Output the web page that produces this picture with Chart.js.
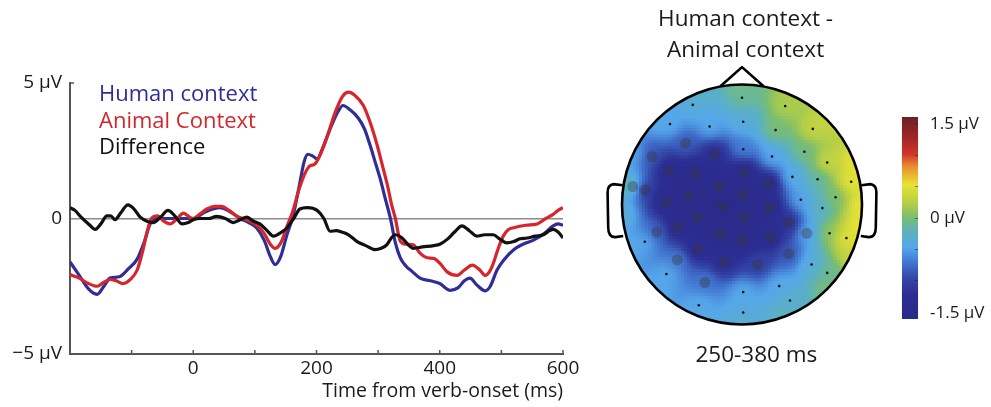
<!DOCTYPE html>
<html>
<head>
<meta charset="utf-8">
<script src="https://cdn.jsdelivr.net/npm/chart.js@4.4.1/dist/chart.umd.min.js"></script>
<style>
  html, body { margin: 0; padding: 0; background: #fff; }
  #wrap { position: relative; width: 991px; height: 407px; overflow: hidden; }
  canvas { position: absolute; top: 0; }
  #erp { left: 0; }
  #topo { left: 590px; }
</style>
</head>
<body>
<div id="wrap">
  <canvas id="erp" width="590" height="407"></canvas>
  <canvas id="topo" width="401" height="407"></canvas>
</div>
<script>
// ---- ERP waveforms (ms, µV) ----
const humanT = [-200,-185,-170,-156,-145,-135,-120,-105,-91,-80,-70,-60,-45,-30,-15,0,20,43,60,76,90,103,115,125,133,142,152,162,172,180,186,194,201,210,222,235,243,255,268,278,287,295,303,312,320,328,336,345,355,368,385,400,417,430,440,449,460,474,482,493,505,520,535,552,570,584,592,600];
const humanV = [-1.6,-2.1,-2.6,-2.8,-2.5,-2.2,-2.15,-1.85,-1.5,-0.9,-0.2,0.0,0.0,0.0,0.0,0.0,0.25,0.4,0.25,0.0,-0.15,-0.35,-0.8,-1.4,-1.7,-1.4,-0.6,0.1,1.2,2.1,2.37,2.3,2.2,2.6,3.3,3.95,4.17,4.0,3.7,3.3,2.7,2.1,1.5,0.7,0.0,-0.9,-1.45,-1.75,-1.95,-2.2,-2.3,-2.4,-2.65,-2.55,-2.3,-2.2,-2.45,-2.67,-2.5,-1.9,-1.5,-1.15,-0.95,-0.8,-0.55,-0.27,-0.2,-0.25];

const animalT = [-200,-185,-170,-156,-145,-135,-125,-114,-102,-91,-82,-75,-68,-58,-48,-38,-26,-16,-6,0,10,22,35,46,58,70,80,92,103,115,125,133,142,152,162,172,182,190,197,205,217,230,242,252,262,276,287,298,307,315,322,328,336,345,357,368,380,390,400,412,428,440,453,465,474,481,487,495,503,512,520,540,558,572,584,592,600];
const animalV = [-2.07,-2.2,-2.4,-2.5,-2.35,-2.25,-2.3,-2.4,-2.25,-1.9,-1.2,-0.5,0.0,0.1,-0.1,-0.2,0.0,0.2,0.05,0.0,0.15,0.35,0.45,0.45,0.3,0.1,0.0,-0.1,-0.25,-0.55,-0.95,-1.1,-0.9,-0.3,0.3,1.1,1.7,1.95,2.0,2.3,3.0,3.9,4.5,4.66,4.55,4.17,3.55,2.74,1.95,1.24,0.5,0.0,-0.84,-0.95,-0.97,-1.28,-1.45,-1.47,-1.65,-1.97,-2.1,-1.9,-1.72,-1.9,-2.1,-1.95,-1.65,-1.1,-0.65,-0.4,-0.34,-0.25,-0.2,0.0,0.15,0.3,0.4];

const diffT = [-200,-192,-184,-170,-159,-150,-140,-134,-127,-118,-106,-96,-86,-75,-65,-53,-41,-30,-18,-8,0,11,25,38,52,65,76,87,98,108,120,130,140,152,163,173,185,201,212,222,232,241,252,266,280,295,305,314,322,328,338,348,357,372,390,400,412,424,436,448,460,473,487,497,509,520,530,542,555,568,578,584,592,600];
const diffV = [0.4,0.3,0.1,-0.2,-0.4,-0.2,0.1,0.1,-0.04,0.2,0.5,0.35,0.05,-0.1,-0.15,0.05,0.3,0.1,-0.2,-0.15,-0.05,0.0,0.0,0.08,0.0,-0.15,-0.05,0.05,-0.1,-0.2,-0.45,-0.65,-0.55,-0.35,0.0,0.35,0.4,0.3,0.0,-0.47,-0.45,-0.5,-0.6,-0.85,-1.0,-1.15,-1.1,-0.97,-0.7,-0.6,-0.7,-0.95,-1.1,-1.05,-1.0,-0.95,-0.77,-0.5,-0.27,-0.45,-0.65,-0.6,-0.6,-0.75,-0.9,-0.85,-0.75,-0.72,-0.65,-0.6,-0.45,-0.4,-0.5,-0.72];

const seriesLabels = ['Human context', 'Animal Context', 'Difference'];
const xTickLabels = [0, 200, 400, 600];
const xMinorTicks = [-100, 0, 100, 200, 300, 400, 500, 600];
const yTickLabels = { '5': '5 µV', '0': '0', '-5': '\u22125 µV' };

// ---- topography: electrode positions (head radius = 1) and µV values ----
const dotX = [0.00,-0.41,0.36,-0.60,-0.27,0.01,0.28,0.59,0.01,0.25,0.52,0.71,0.42,0.63,0.91,0.49,0.78,0.67,0.73,0.87,-0.81,0.58,0.71,-0.63,0.31,0.01,0.40,-0.36,0.01];
const dotY = [0.89,0.83,0.82,0.67,0.65,0.69,0.62,0.63,0.46,0.40,0.44,0.35,0.23,0.21,0.19,0.04,0.06,-0.03,-0.24,-0.28,-0.31,-0.50,-0.57,-0.58,-0.68,-0.73,-0.80,-0.84,-0.90];
const dotV = [-0.1,-0.38,0.2,-0.45,-0.45,-0.38,0.0,0.32,-0.65,-0.45,-0.05,0.35,-0.42,-0.15,0.55,-0.5,0.0,-0.25,0.1,0.55,-0.45,-0.38,-0.1,-0.45,-0.45,-0.45,-0.3,-0.45,-0.4];

const sigX = [-0.47,-0.75,-0.23,-0.61,-0.39,0.02,-0.91,-0.81,-0.19,0.22,-0.44,0.01,-0.63,-0.16,0.23,-0.37,0.02,0.39,-0.71,-0.18,0.54,0.24,-0.54,0.00,-0.37,0.39,-0.54,-0.15,0.13,-0.31];
const sigY = [0.51,0.40,0.42,0.28,0.26,0.27,0.15,0.12,0.15,0.17,0.07,0.08,0.02,-0.02,-0.03,-0.11,-0.11,-0.15,-0.23,-0.24,-0.24,-0.27,-0.19,-0.30,-0.37,-0.41,-0.46,-0.48,-0.50,-0.65];
const sigV = [-0.85,-0.9,-1.3,-1.5,-1.55,-1.5,-0.2,-1.2,-1.6,-1.5,-1.6,-1.6,-1.55,-1.6,-1.5,-1.6,-1.6,-1.3,-0.8,-1.6,-0.5,-1.45,-1.45,-1.55,-1.4,-0.9,-0.65,-1.3,-1.05,-0.7];

// values read along the scalp rim (degrees, counter-clockwise from the right ear)
const rimAngle = [0,20,45,65,90,110,135,155,170,185,200,225,250,270,290,315,335,350];
const rimV = [0.6,0.55,0.35,0.2,-0.05,-0.25,-0.42,-0.45,-0.1,-0.3,-0.45,-0.45,-0.42,-0.3,-0.2,0.0,0.35,0.6];

// colour scale
const cbMin = -1.6, cbMax = 1.6;
const cbTicks = [1.5, 0, -1.5];
const cbTickLabels = ['1.5 µV', '0 µV', '-1.5 µV'];
const cmapV = [-1.6,-1.23,-0.96,-0.74,-0.48,-0.22,0,0.21,0.53,0.82,1.01,1.28,1.6];
const cmapC = ['#2a2a88','#2c2e94','#3448a8','#4070cc','#55a6ea','#5cb2bc','#7abd70','#b2cd48','#e6e232','#e88a30','#d0342c','#a02626','#6a2222'];

const FONT = '"Open Sans", "Noto Sans", sans-serif';
const TXT = '#1a1a1a';

// ---------- ERP chart ----------
function pairs(t, v) { return t.map((x, i) => ({ x: x, y: v[i] })); }

const erpPlugin = {
  id: 'erpPlugin',
  afterDraw(chart) {
    const { ctx, scales: { x, y } } = chart;
    ctx.save();
    // inward tick marks
    ctx.strokeStyle = '#555';
    ctx.lineWidth = 1.5;
    xMinorTicks.forEach(v => {
      const px = x.getPixelForValue(v);
      ctx.beginPath();
      ctx.moveTo(px, y.bottom);
      ctx.lineTo(px, y.bottom - 4);
      ctx.stroke();
    });
    const ty = y.getPixelForValue(5);
    ctx.beginPath();
    ctx.moveTo(x.left, ty);
    ctx.lineTo(x.left + 4, ty);
    ctx.stroke();
    // coloured text legend
    ctx.font = '22px ' + FONT;
    ctx.textAlign = 'left';
    ctx.textBaseline = 'alphabetic';
    chart.data.datasets.forEach((ds, i) => {
      ctx.fillStyle = ds.borderColor;
      ctx.fillText(ds.label, 99, 101 + i * 26.5);
    });
    ctx.restore();
  }
};

new Chart(document.getElementById('erp'), {
  type: 'line',
  data: {
    datasets: [
      { label: seriesLabels[0], data: pairs(humanT, humanV), borderColor: '#2f2d96', order: 3 },
      { label: seriesLabels[1], data: pairs(animalT, animalV), borderColor: '#d4262c', order: 2 },
      { label: seriesLabels[2], data: pairs(diffT, diffV), borderColor: '#111111', order: 1 }
    ]
  },
  options: {
    responsive: false,
    animation: false,
    devicePixelRatio: 1,
    layout: { padding: { top: 83, right: 27, left: 0, bottom: 0 } },
    elements: {
      line: { borderWidth: 3.2, tension: 0.4, cubicInterpolationMode: 'monotone', fill: false },
      point: { radius: 0 }
    },
    plugins: { legend: { display: false }, tooltip: { enabled: false } },
    scales: {
      x: {
        type: 'linear', min: -200, max: 600,
        afterFit: s => { s.height = 53; },
        ticks: {
          stepSize: 100, autoSkip: false, maxRotation: 0, padding: 3,
          callback: v => xTickLabels.includes(v) ? String(v) : '',
          font: { family: FONT, size: 19 }, color: TXT
        },
        grid: { display: false, drawTicks: false },
        border: { color: '#555', width: 2 },
        title: {
          display: true, text: 'Time from verb-onset (ms)', align: 'end',
          font: { family: FONT, size: 19.5 }, color: TXT, padding: { top: 0, bottom: 4 }
        }
      },
      y: {
        min: -5, max: 5,
        afterFit: s => { s.width = 70; },
        ticks: {
          stepSize: 5, padding: 8,
          callback: v => yTickLabels[String(v)] || '',
          font: { family: FONT, size: 19 }, color: TXT
        },
        grid: {
          drawTicks: false,
          color: c => (c.tick && c.tick.value === 0) ? '#8c8c8c' : 'rgba(0,0,0,0)',
          lineWidth: 1.5
        },
        border: { color: '#555', width: 2 }
      }
    }
  },
  plugins: [erpPlugin]
});

// ---------- topographic map ----------
const cmapRGB = cmapC.map(h => [parseInt(h.substr(1, 2), 16), parseInt(h.substr(3, 2), 16), parseInt(h.substr(5, 2), 16)]);
function colorFor(v) {
  if (v <= cmapV[0]) v = cmapV[0];
  if (v >= cmapV[cmapV.length - 1]) v = cmapV[cmapV.length - 1];
  let i = 0;
  while (i < cmapV.length - 2 && v > cmapV[i + 1]) i++;
  const f = (v - cmapV[i]) / (cmapV[i + 1] - cmapV[i]);
  const a = cmapRGB[i], b = cmapRGB[i + 1];
  return 'rgb(' + Math.round(a[0] + (b[0] - a[0]) * f) + ',' + Math.round(a[1] + (b[1] - a[1]) * f) + ',' + Math.round(a[2] + (b[2] - a[2]) * f) + ')';
}

const fieldPts = [];
dotX.forEach((x, i) => fieldPts.push([x, dotY[i], dotV[i]]));
sigX.forEach((x, i) => fieldPts.push([x, sigY[i], sigV[i]]));
rimAngle.forEach((a, i) => {
  const r = a * Math.PI / 180;
  fieldPts.push([Math.cos(r), Math.sin(r), rimV[i]]);
});

// smoothed inverse-distance weighting between electrodes
function fieldValue(u, w) {
  let num = 0, den = 0;
  for (let i = 0; i < fieldPts.length; i++) {
    const p = fieldPts[i];
    const d2 = (u - p[0]) * (u - p[0]) + (w - p[1]) * (w - p[1]);
    const wt = 1 / Math.pow(d2 + 0.009, 1.8);
    num += wt * p[2];
    den += wt;
  }
  return num / den;
}

const topoPlugin = {
  id: 'topoPlugin',
  beforeDatasetsDraw(chart) {
    const { ctx, scales: { x: xs, y: ys } } = chart;
    const cx = xs.getPixelForValue(0), cy = ys.getPixelForValue(0);
    const r = xs.getPixelForValue(1) - cx;
    const cell = 3;
    ctx.save();
    ctx.beginPath();
    ctx.arc(cx, cy, r, 0, Math.PI * 2);
    ctx.clip();
    for (let py = Math.floor(cy - r) - 1; py < cy + r + 1; py += cell) {
      for (let px = Math.floor(cx - r) - 1; px < cx + r + 1; px += cell) {
        const u = xs.getValueForPixel(px + cell / 2);
        const w = ys.getValueForPixel(py + cell / 2);
        if (u * u + w * w > 1.1) continue;
        ctx.fillStyle = colorFor(fieldValue(u, w));
        ctx.fillRect(px, py, cell, cell);
      }
    }
    ctx.restore();
  },
  afterDraw(chart) {
    const { ctx, scales: { x: xs, y: ys } } = chart;
    const X = v => xs.getPixelForValue(v), Y = v => ys.getPixelForValue(v);
    const cx = X(0), cy = Y(0), r = X(1) - cx;
    ctx.save();
    ctx.strokeStyle = '#000';
    ctx.lineWidth = 2.6;
    ctx.lineJoin = 'round';
    // head
    ctx.beginPath();
    ctx.arc(cx, cy, r, 0, Math.PI * 2);
    ctx.stroke();
    // nose
    ctx.beginPath();
    ctx.moveTo(X(-0.18), Y(0.985));
    ctx.lineTo(X(0), Y(1.145));
    ctx.lineTo(X(0.18), Y(0.985));
    ctx.stroke();
    // ears
    [-1, 1].forEach(s => {
      ctx.beginPath();
      ctx.moveTo(X(s * 0.995), Y(0.16));
      ctx.lineTo(X(s * 1.07), Y(0.17));
      ctx.quadraticCurveTo(X(s * 1.12), Y(0.165), X(s * 1.12), Y(0.10));
      ctx.lineTo(X(s * 1.115), Y(-0.19));
      ctx.quadraticCurveTo(X(s * 1.115), Y(-0.275), X(s * 1.055), Y(-0.272));
      ctx.lineTo(X(s * 0.99), Y(-0.262));
      ctx.stroke();
    });
    // colour bar
    const bx0 = X(1.333), bx1 = X(1.467);
    const cbY = v => Y(-0.946 + (v - cbMin) / (cbMax - cbMin) * (0.729 + 0.946));
    const top = cbY(cbMax), bot = cbY(cbMin);
    for (let py = Math.floor(top); py < bot; py++) {
      const v = cbMin + (bot - (py + 0.5)) / (bot - top) * (cbMax - cbMin);
      ctx.fillStyle = colorFor(v);
      ctx.fillRect(bx0, py, bx1 - bx0, 1);
    }
    ctx.strokeStyle = 'rgba(40,40,40,0.6)';
    ctx.lineWidth = 1;
    for (let v = -1.5; v <= 1.51; v += 0.5) {
      const py = Math.round(cbY(v)) + 0.5;
      ctx.beginPath();
      ctx.moveTo(bx1 - 3, py);
      ctx.lineTo(bx1, py);
      ctx.stroke();
    }
    ctx.fillStyle = TXT;
    ctx.font = '17px ' + FONT;
    ctx.textAlign = 'left';
    ctx.textBaseline = 'middle';
    cbTicks.forEach((v, i) => ctx.fillText(cbTickLabels[i], X(1.567), cbY(v) + 1));
    // titles
    ctx.font = '22.5px ' + FONT;
    ctx.textAlign = 'center';
    ctx.textBaseline = 'alphabetic';
    ctx.fillText('Human context -', X(0.03), Y(1.4875));
    ctx.fillText('Animal context', X(0.03), Y(1.229));
    ctx.fillText('250-380 ms', X(0.12), Y(-1.315));
    ctx.restore();
  }
};

new Chart(document.getElementById('topo'), {
  type: 'scatter',
  data: {
    datasets: [
      {
        label: 'significant electrodes',
        data: pairs(sigX, sigY),
        pointRadius: 5.5, pointBackgroundColor: 'rgba(55,55,60,0.38)', pointBorderWidth: 0
      },
      {
        label: 'electrodes',
        data: pairs(dotX, dotY),
        pointRadius: 1.3, pointBackgroundColor: '#111', pointBorderWidth: 0
      }
    ]
  },
  options: {
    responsive: false,
    animation: false,
    devicePixelRatio: 1,
    layout: { padding: 0, autoPadding: false },
    plugins: { legend: { display: false }, tooltip: { enabled: false } },
    scales: {
      x: { type: 'linear', min: -152 / 120, max: 249 / 120, display: false },
      y: { type: 'linear', min: -202.5 / 120, max: 204.5 / 120, display: false }
    }
  },
  plugins: [topoPlugin]
});
</script>
</body>
</html>
